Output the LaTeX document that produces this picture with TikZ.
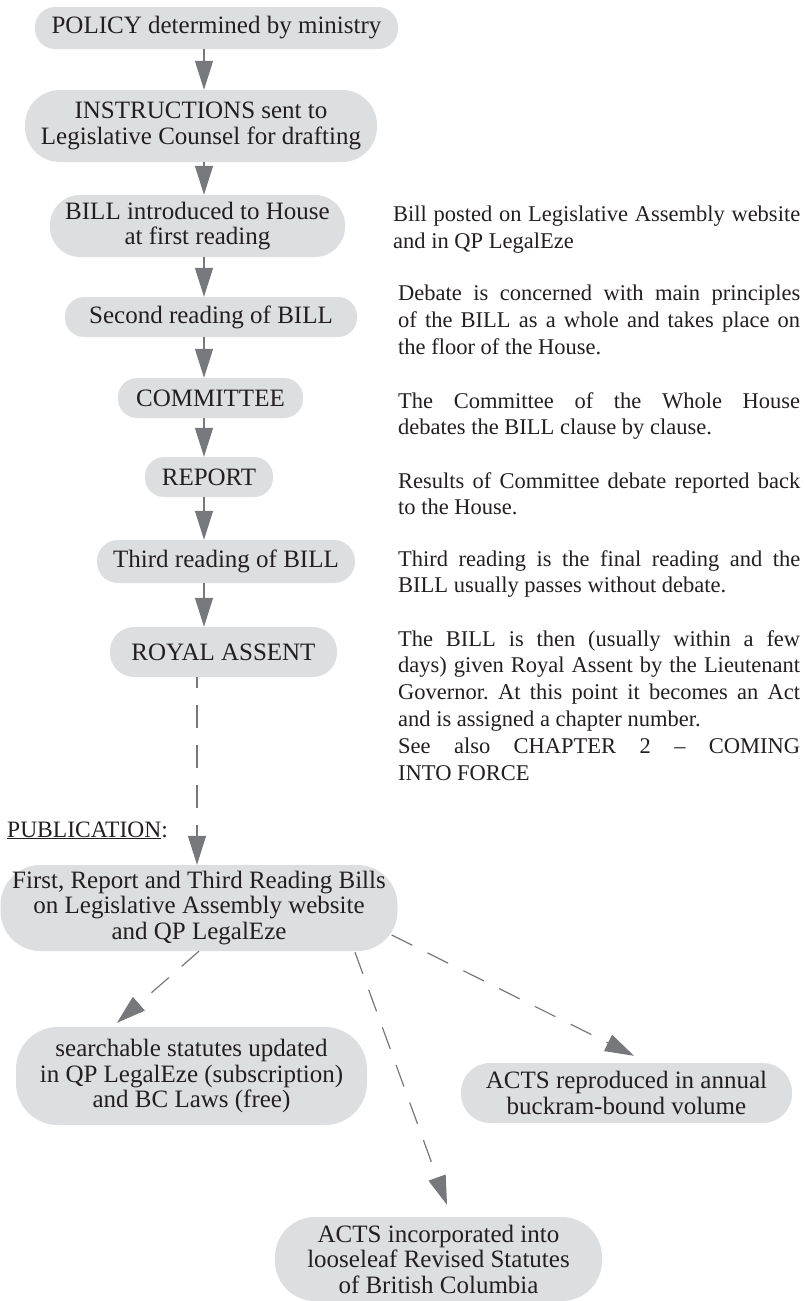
\documentclass[tikz,border=0pt]{standalone}
\usepackage{fontspec}
\setmainfont{Liberation Serif}
\usetikzlibrary{arrows.meta,calc}
\definecolor{boxgray}{HTML}{DDDEDF}
\definecolor{arrgray}{HTML}{77787B}
\definecolor{txt}{HTML}{231F20}
\frenchspacing
\begin{document}
\begin{tikzpicture}[x=1pt,y=-1pt,
  pill/.style={fill=boxgray, draw=none, inner sep=0pt, align=center, text=txt,
    font=\fontsize{25}{25.5}\selectfont},
  flow/.style={draw=arrgray, line width=1.2pt, -{Triangle[length=29pt,width=18pt]}},
  pubflow/.style={flow, dash pattern=on 23pt off 17pt},
  note/.style={anchor=north west, inner sep=0pt, align=justify, text=txt,
    font=\fontsize{22.5}{26.8}\selectfont, text width=402pt}]
\useasboundingbox (0,0) rectangle (804,1301);

% main column
\node[pill, minimum width=363pt, minimum height=42pt, rounded corners=20pt] (policy) at (216.5,28) {POLICY determined by ministry};
\node[pill, minimum width=352pt, minimum height=72pt, rounded corners=35pt] (instr) at (201,126) {INSTRUCTIONS sent to\\Legislative Counsel for drafting};
\node[pill, minimum width=295pt, minimum height=62pt, rounded corners=30pt] (bill) at (197.5,226) {BILL introduced to House\\at first reading};
\node[pill, minimum width=292pt, minimum height=40pt, rounded corners=19pt] (second) at (211,317) {Second reading of BILL};
\node[pill, minimum width=185pt, minimum height=40pt, rounded corners=19pt] (committee) at (210.5,398) {COMMITTEE};
\node[pill, minimum width=128pt, minimum height=40pt, rounded corners=19pt] (report) at (209,477) {REPORT};
\node[pill, minimum width=258pt, minimum height=43pt, rounded corners=21pt] (third) at (226,561.5) {Third reading of BILL};
\node[pill, minimum width=227pt, minimum height=50pt, rounded corners=24pt] (royal) at (223.5,652) {ROYAL ASSENT};

\node[pill, minimum width=397pt, minimum height=86pt, rounded corners=40pt] (pub) at (199,908) {First, Report and Third Reading Bills\\on Legislative Assembly website\\and QP LegalEze};
\node[pill, minimum width=351pt, minimum height=98pt, rounded corners=42pt] (search) at (191.5,1076) {searchable statutes updated\\in QP LegalEze (subscription)\\and BC Laws (free)};
\node[pill, minimum width=331pt, minimum height=60pt, rounded corners=29pt] (repro) at (626.5,1093) {ACTS reproduced in annual\\buckram-bound volume};
\node[pill, minimum width=327pt, minimum height=84pt, rounded corners=40pt] (incorp) at (438.5,1259) {ACTS incorporated into\\looseleaf Revised Statutes\\of British Columbia};

\coordinate (spine) at (204,0);
\coordinate (pubx) at (197,0);

\draw[flow] (policy.south -| spine) -- (instr.north -| spine);
\draw[flow] (instr.south -| spine) -- (bill.north -| spine);
\draw[flow] (bill.south -| spine) -- (second.north -| spine);
\draw[flow] (second.south -| spine) -- (committee.north -| spine);
\draw[flow] (committee.south -| spine) -- (report.north -| spine);
\draw[flow] (report.south -| spine) -- (third.north -| spine);
\draw[flow] (third.south -| spine) -- (royal.north -| spine);
\draw[pubflow, dash phase=12pt] (royal.south -| pubx) -- (pub.north -| pubx);

\draw[pubflow] (pub.south) -- ($(search.north)+(-74.5,-4)$);
\draw[pubflow] ($(pub.south)+(156,1)$) -- ($(incorp.north)+(8.5,-12)$);
\draw[pubflow] ($(pub.east)+(-6,27)$) -- ($(repro.north)+(7.5,-7)$);

\node[anchor=base west, inner sep=0pt, text=txt, font=\fontsize{23.5}{27}\selectfont] (publab) at (7,837) {\underline{PUBLICATION}:};

% notes
\node[note, text width=407pt] (n1) at (393,206) {Bill posted on Legislative Assembly website\linebreak and in QP LegalEze};
\node[note] (n2) at (398,285) {Debate is concerned with main principles\linebreak of the BILL as a whole and takes place on\linebreak the floor of the House.};
\node[note] (n3) at (398,392) {The Committee of the Whole House\linebreak debates the BILL clause by clause.};
\node[note] (n4) at (398,472) {Results of Committee debate reported back\linebreak to the House.};
\node[note] (n5) at (398,550) {Third reading is the final reading and the\linebreak BILL usually passes without debate.};
\node[note] (n6) at (398,630) {The BILL is then (usually within a few\linebreak days) given Royal Assent by the Lieutenant\linebreak Governor. At this point it becomes an Act\linebreak and is assigned a chapter number.\hfil\break See also CHAPTER 2 -- COMING\linebreak INTO FORCE};
\end{tikzpicture}
\end{document}
